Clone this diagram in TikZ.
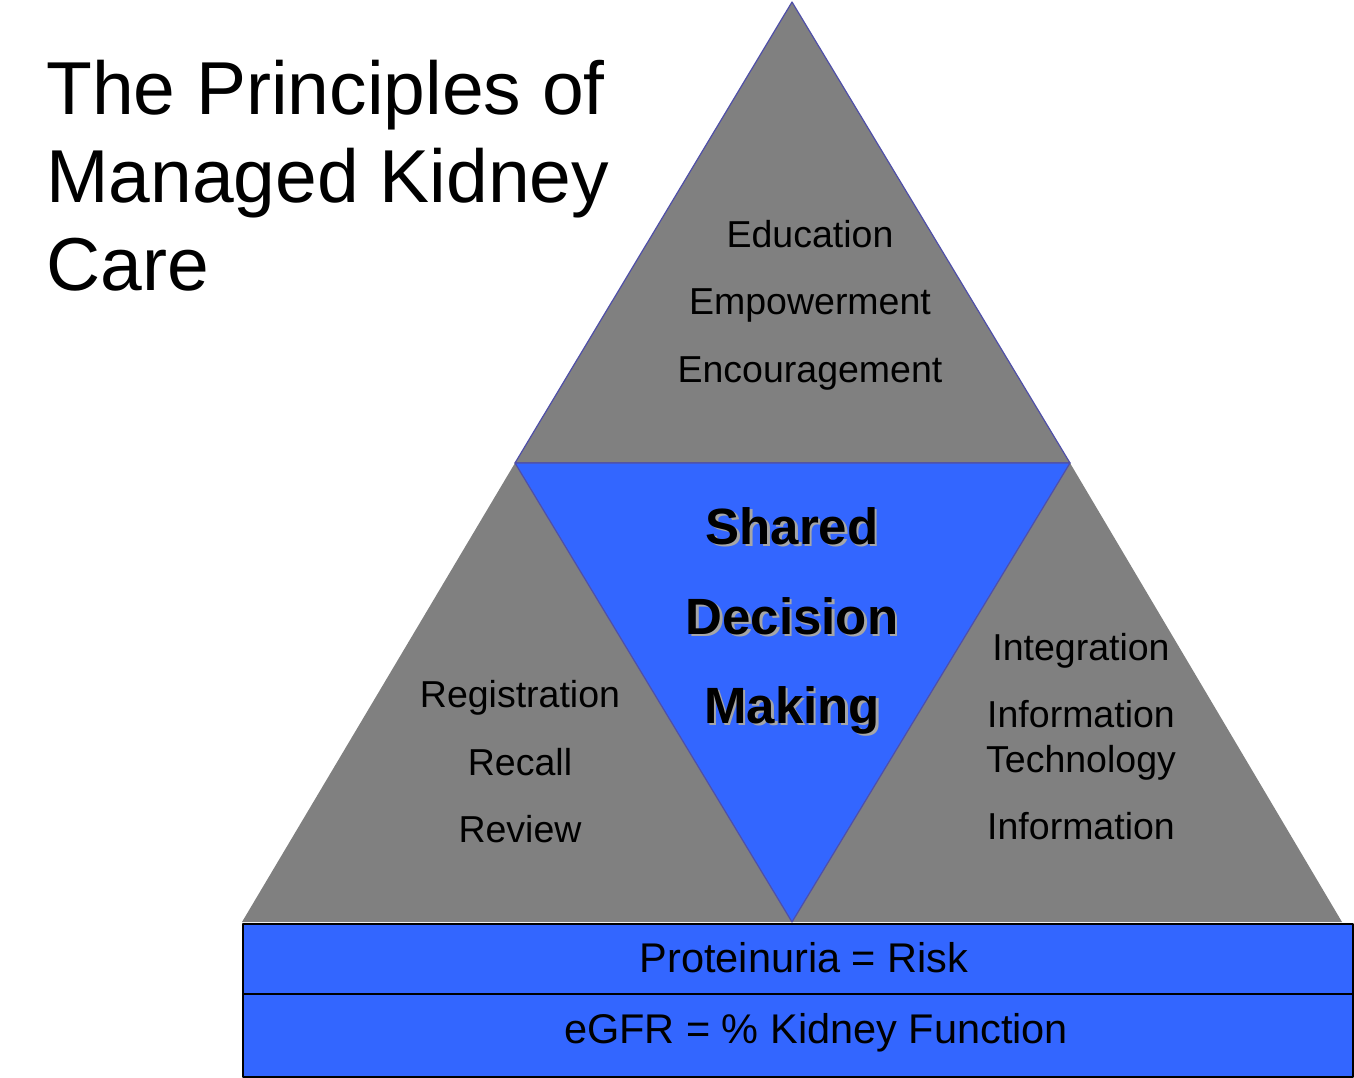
\documentclass[tikz,border=0pt]{standalone}
\usepackage{fontspec}
\setmainfont{Liberation Sans}
\definecolor{tgray}{HTML}{808080}
\definecolor{tblue}{HTML}{3366FF}
\definecolor{tedge}{HTML}{4F4FA8}
\tikzset{
  every picture/.style={line join=round, line cap=round},
  grayface/.style={fill=tgray},
  edged/.style={draw=tedge, line width=1.2pt},
  band/.style={fill=tblue, draw=black, line width=2.2pt},
  item/.style={anchor=base, font=\fontsize{37.5}{40}\selectfont},
  bandtext/.style={anchor=base, font=\fontsize{41.5}{45}\selectfont},
  sdm/.style={anchor=base, font=\bfseries\fontsize{51}{55}\selectfont},
}
\begin{document}
\begin{tikzpicture}[x=1pt,y=-1pt]
\useasboundingbox (0,0) rectangle (1354,1078);
% corners of the pyramid
\coordinate (apex) at (792,2);
\coordinate (ml) at (515,463);
\coordinate (mr) at (1070,463);
\coordinate (bl) at (242,922);
\coordinate (bm) at (792,922);
\coordinate (br) at (1342,922);
% side triangles, then top and centre
\fill[grayface] (ml)--(bl)--(bm)--cycle;
\fill[grayface] (mr)--(bm)--(br)--cycle;
\draw[grayface,edged] (apex)--(ml)--(mr)--cycle;
\draw[edged,fill=tblue] (ml)--(mr)--(bm)--cycle;
% bands at the base
\draw[band] (243,924) rectangle (1353,994);
\draw[band] (243,994) rectangle (1353,1077);
\node[bandtext] (risk) at (804,972) {Proteinuria = Risk};
\node[bandtext] (egfr) at (816,1043) {eGFR = \% Kidney Function};
% title
\node[anchor=base west,align=left,inner sep=0pt,font=\fontsize{75}{88}\selectfont] (title) at (46,290)
  {The Principles of\\Managed Kidney\\Care};
% top triangle
\foreach \t/\y [count=\i] in {Education/247,Empowerment/314,Encouragement/382}
  \node[item] (top\i) at (810,\y) {\t};
% left triangle
\foreach \t/\y [count=\i] in {Registration/707,Recall/775,Review/842}
  \node[item] (left\i) at (520,\y) {\t};
% right triangle
\foreach \t/\y [count=\i] in {Integration/660,Information/727,Technology/772,Information/839}
  \node[item] (right\i) at (1081,\y) {\t};
% shared decision making, with its shadow
\foreach \t/\y [count=\i] in {Shared/544,Decision/634,Making/723}{
  \node[sdm,text=black!35] at (794.5,\y+2.5) {\t};
  \node[sdm] (sdm\i) at (792,\y) {\t};
}
\end{tikzpicture}
\end{document}
